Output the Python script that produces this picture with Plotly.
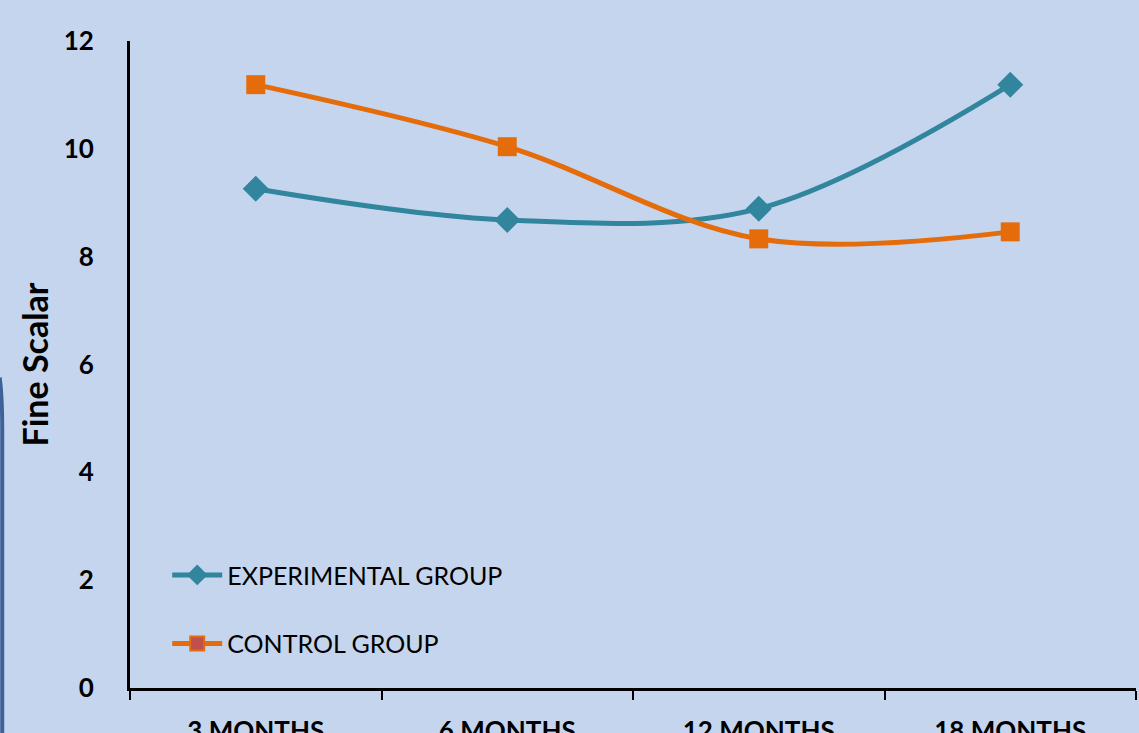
import plotly.graph_objects as go

# Follow-up time points and scores for the two groups
periods = ["3 MONTHS", "6 MONTHS", "12 MONTHS", "18 MONTHS"]
experimental = [9.26, 8.68, 8.89, 11.19]
control = [11.19, 10.04, 8.33, 8.46]

BG = "#C5D5EE"
TEAL = "#31859C"
ORANGE = "#E46C0A"
FONT = "Lato"

fig = go.Figure()

fig.add_trace(go.Scatter(
    x=periods, y=experimental, mode="lines+markers", name="EXPERIMENTAL GROUP",
    line=dict(color=TEAL, width=5, shape="spline", smoothing=1.0),
    marker=dict(symbol="diamond", size=20, color=TEAL),
    showlegend=False,
))
fig.add_trace(go.Scatter(
    x=periods, y=control, mode="lines+markers", name="CONTROL GROUP",
    line=dict(color=ORANGE, width=5, shape="spline", smoothing=1.0),
    marker=dict(symbol="square", size=19, color=ORANGE),
    showlegend=False,
))

# Legend entries
fig.add_trace(go.Scatter(
    x=[None], y=[None], mode="lines+markers", name="EXPERIMENTAL GROUP",
    line=dict(color=TEAL, width=5),
    marker=dict(symbol="diamond", size=16, color=TEAL),
    legendgroup="a",
))
fig.add_trace(go.Scatter(
    x=[None], y=[None], mode="lines+markers", name="CONTROL GROUP",
    line=dict(color=ORANGE, width=5),
    marker=dict(symbol="square", size=14, color="#C0504D",
                line=dict(color=ORANGE, width=2)),
    legendgroup="b",
))

# Dark edge along the left border
fig.add_shape(type="path", xref="paper", yref="paper",
              path="M -0.1295 0.48 Q -0.127 0.45 -0.127 0.40 L -0.127 -0.08",
              line=dict(color="#3E6298", width=4))

fig.update_layout(
    width=1139, height=733,
    margin=dict(l=130, r=3, t=41, b=45, autoexpand=False),
    paper_bgcolor=BG, plot_bgcolor=BG,
    font=dict(family=FONT, color="#000000"),
    showlegend=True,
    legend=dict(
        x=0.037, y=0.21, xanchor="left", yanchor="top",
        bgcolor="rgba(0,0,0,0)", font=dict(size=25, family=FONT),
        traceorder="grouped", tracegroupgap=33, itemwidth=50,
    ),
    xaxis=dict(
        type="category", range=[-0.5, 3.5], automargin=False,
        showline=True, linecolor="#000000", linewidth=3,
        ticks="outside", tickson="boundaries", ticklen=9, tickwidth=2,
        tickcolor="#000000", showgrid=False, zeroline=False,
        tickfont=dict(size=26, family=FONT, weight="bold"),
        ticklabelstandoff=18,
    ),
    yaxis=dict(
        range=[0, 12], dtick=2, automargin=False,
        showline=True, linecolor="#000000", linewidth=3,
        ticks="", showgrid=False, zeroline=False,
        tickfont=dict(size=26, family=FONT, weight="bold"),
        ticklabelstandoff=28,
        title=dict(text="Fine Scalar", standoff=5,
                   font=dict(size=34, family=FONT, weight="bold")),
    ),
)

fig.write_html("out.html")
